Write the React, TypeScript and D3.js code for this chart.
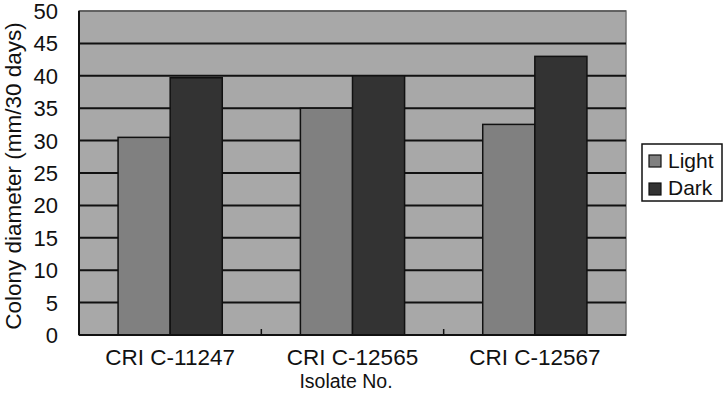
import React from "react";
import * as d3 from "d3";

const categories = ["CRI C-11247", "CRI C-12565", "CRI C-12567"];
const seriesNames = ["Light", "Dark"];
const lightValues = [30.5, 35, 32.5];
const darkValues = [39.7, 40, 43];
const yTicks = [0, 5, 10, 15, 20, 25, 30, 35, 40, 45, 50];

const W = 725;
const H = 400;
const left = 79;
const right = 626;
const top = 11;
const bottom = 335;
const font = "'Liberation Sans', Arial, sans-serif";
const colors = { Light: "#808080", Dark: "#333333" };

export default function App() {
  const x = d3.scaleBand<string>().domain(categories).range([left, right]).padding(0);
  const xs = d3.scaleBand<string>().domain(seriesNames).range([0, x.bandwidth()]).paddingInner(0).paddingOuter(0.75);
  const y = d3.scaleLinear().domain([0, 50]).range([bottom, top]);
  const seriesValues: Record<string, number[]> = { Light: lightValues, Dark: darkValues };

  return (
    <svg width={W} height={H} style={{ position: "absolute", left: 0, top: 0, background: "#fff" }} fontFamily={font}>
      <rect x={left} y={top} width={right - left} height={bottom - top} fill="#a8a8a8" stroke="#777" strokeWidth={1.5} />
      {yTicks.filter((t) => t !== 0 && t !== 50).map((t) => (
        <line key={t} x1={left} x2={right} y1={y(t)} y2={y(t)} stroke="#111" strokeWidth={2} />
      ))}
      <line x1={left} x2={right} y1={y(50)} y2={y(50)} stroke="#555" strokeWidth={1.5} />
      {categories.map((c, i) =>
        seriesNames.map((s) => {
          const v = seriesValues[s][i];
          return (
            <rect
              key={c + s}
              x={(x(c) as number) + (xs(s) as number)}
              y={y(v)}
              width={xs.bandwidth()}
              height={y(0) - y(v)}
              fill={(colors as any)[s]}
              stroke="#111"
              strokeWidth={1.5}
            />
          );
        })
      )}
      {categories.slice(1).map((c) => (
        <line key={"t" + c} x1={x(c) as number} x2={x(c) as number} y1={bottom} y2={bottom - 6} stroke="#111" strokeWidth={1.5} />
      ))}
      <line x1={left} x2={left} y1={top} y2={bottom} stroke="#111" strokeWidth={2} />
      <line x1={left} x2={right} y1={bottom} y2={bottom} stroke="#111" strokeWidth={2} />
      {yTicks.map((t) => (
        <text key={"yl" + t} x={58} y={y(t)} dy="0.36em" textAnchor="end" fontSize={22} fill="#111">
          {t}
        </text>
      ))}
      {categories.map((c) => (
        <text key={"xl" + c} x={(x(c) as number) + x.bandwidth() / 2} y={365} textAnchor="middle" fontSize={22.5} fill="#111">
          {c}
        </text>
      ))}
      <text x={346} y={388} textAnchor="middle" fontSize={19.5} fill="#111">
        Isolate No.
      </text>
      <text transform={`translate(21,176) rotate(-90)`} textAnchor="middle" fontSize={22.5} fill="#111">
        Colony diameter (mm/30 days)
      </text>
      <rect x={642} y={144} width={80} height={57} fill="#fff" stroke="#111" strokeWidth={1.5} />
      {seriesNames.map((s, i) => (
        <g key={"lg" + s}>
          <rect x={649} y={155 + i * 28} width={12} height={12} fill={(colors as any)[s]} stroke="#111" strokeWidth={1.2} />
          <text x={668} y={168 + i * 27} fontSize={21} fill="#111">
            {s}
          </text>
        </g>
      ))}
    </svg>
  );
}
